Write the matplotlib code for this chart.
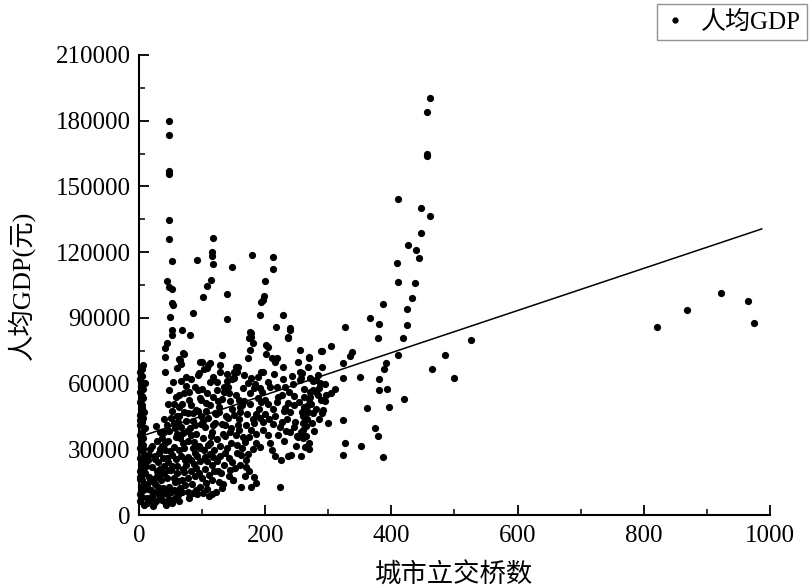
import numpy as np
import matplotlib
matplotlib.use("Agg")
import matplotlib.pyplot as plt
from matplotlib.ticker import MultipleLocator
from matplotlib.lines import Line2D

plt.rcParams['font.family'] = ['Liberation Serif', 'Noto Sans CJK SC', 'DejaVu Sans']

# ---- data ----
col0_x = [2, 5, 1, 7, 3, 9, 4, 2, 6, 1, 8, 3, 5, 2, 10, 4, 1, 6, 3, 7, 2, 5, 9, 1, 4,
          6, 2, 8, 3, 5, 1, 7, 4, 2, 6, 3, 9, 1, 5, 2, 4, 7, 3, 1, 6, 8, 2, 5]
col0_y = [6500, 8200, 9700, 11300, 12600, 14100, 15800, 17200, 18600, 20300, 21400, 23100,
          24700, 26000, 27600, 29200, 30400, 32100, 33700, 35200, 36400, 38100, 39600, 41200,
          42300, 44100, 45700, 47200, 48400, 50100, 51600, 53200, 54300, 56100, 57600, 59100,
          60400, 62200, 63600, 65100, 66700, 68300, 52600, 43400, 30100, 25200, 16400, 48900]

main_x = [12, 15, 18, 10, 22, 25, 28, 20, 30, 26, 33, 35, 38, 32, 24, 36, 40, 14, 18, 38,
          34, 28, 40, 22, 30, 16, 36, 40,
          42, 45, 48, 44, 50, 46, 52, 55, 42, 58, 47, 55, 50, 57, 60, 53, 59, 49, 56, 44,
          60, 52, 46, 58, 48, 54, 60, 41, 57, 51,
          62, 65, 68, 72, 75, 78, 64, 70, 82, 66, 74, 85, 63, 80, 72, 88, 67, 77, 84, 88,
          90, 82, 86, 76, 62, 89, 71, 80, 69, 87, 74, 83, 65, 79, 90,
          92, 96, 100, 104, 108, 112, 95, 102, 116, 98, 110, 93, 106, 118, 100, 112, 94,
          108, 115, 119, 97, 113, 105, 120, 91, 117, 103, 99, 111, 107,
          122, 126, 130, 135, 128, 140, 124, 145, 132, 138, 147, 125, 142, 134, 148, 121,
          136, 143, 149, 131, 127, 139, 146, 123, 144,
          152, 149, 162, 178, 162, 170, 175, 182, 185, 160, 168, 155, 165, 174, 185, 192,
          158, 170, 180, 160, 176, 188, 153, 165, 178, 173, 154, 151, 151, 141, 160, 150,
          157, 146, 183, 190, 167,
          197, 205, 208, 210, 215, 225, 241, 224, 240, 263, 230, 250, 196, 215, 230, 204,
          220, 238, 196, 204, 218, 228, 228, 199, 212, 235, 223, 200, 236, 192,
          252, 255, 257, 268, 284, 275, 280, 262, 245, 258, 270, 291, 285, 300, 248, 265,
          278, 252, 270, 244, 295, 260, 275]
main_y = [8000, 12000, 15500, 19000, 10500, 14000, 18000, 22000, 24000, 27000, 21000, 16000,
          12500, 9000, 5500, 7000, 19000, 25000, 30000, 26000, 30000, 34000, 38000, 4000,
          13000, 17500, 35000, 44000,
          6000, 9500, 13000, 17000, 20500, 24000, 27500, 31000, 33000, 35500, 38500, 42000,
          10500, 15000, 19000, 22500, 25500, 29000, 11500, 41000, 45000, 47500, 50500, 54000,
          57000, 60500, 37000, 12000, 8000, 44500,
          9000, 12500, 16000, 19500, 23000, 26500, 29500, 33000, 36500, 40000, 43000, 46500,
          49500, 52500, 55500, 58500, 61000, 10500, 14000, 18000, 21500, 25000, 30500, 38500,
          42500, 41000, 47000, 8000, 21000, 33500, 63000, 50000, 35000, 56000, 11500,
          9500, 13000, 17000, 21000, 24500, 28000, 31500, 35000, 38000, 41500, 44500, 47500,
          51000, 54000, 57500, 60500, 64000, 12000, 16000, 20000, 24500, 33000, 40000, 46500,
          37000, 26500, 29500, 52500, 8500, 67000,
          10500, 15000, 19000, 23000, 27000, 30500, 34500, 38000, 41500, 45000, 48500, 52000,
          55500, 58500, 62000, 42000, 36000, 26000, 16000, 12500, 47000, 64500, 33000, 57000,
          20500,
          21300, 16000, 13000, 13000, 27400, 25000, 20000, 17500, 14600, 23000, 18000, 32000,
          35500, 35600, 33000, 31000, 39000, 41000, 44000, 47000, 50500, 53500, 55000, 58000,
          62500, 60100, 67700, 65400, 62400, 58600, 49400, 45600, 41000, 39700, 57800, 48500,
          52000,
          38800, 36500, 32900, 29700, 27000, 25100, 27500, 40000, 38000, 31000, 34000, 36000,
          42500, 45000, 47500, 50500, 54000, 56000, 65400, 60900, 58500, 62000, 67700, 46000,
          41500, 44000, 12600, 52500, 51000, 58000,
          70000, 65500, 62400, 67700, 64000, 61000, 56000, 57500, 50000, 47000, 53000, 48000,
          44000, 42000, 42500, 40500, 38500, 35500, 33000, 60000, 52000, 45000, 46500]

fill_x = [8, 12, 17, 21, 27, 31, 37, 43, 48, 13, 19, 23, 29, 34, 39, 44, 47, 11, 16, 21,
          25, 31, 37, 42, 46, 33, 27,
          53, 58, 63, 68, 73, 78, 83, 87, 92, 97, 55, 61, 66, 71, 77, 81, 86, 91, 96, 57,
          63, 68, 75, 82, 64, 93, 55, 70, 78, 88, 95, 99, 85, 73, 62,
          102, 106, 111, 115, 119, 123, 128, 133, 137, 141, 104, 109, 114, 118, 122, 126,
          131, 135, 140, 145, 101, 106, 113, 117, 124, 129, 137, 142, 147, 108, 116, 125, 133,
          156, 163, 168, 172, 177, 182, 186, 191, 153, 159, 164, 171, 176, 184, 189, 195,
          158, 166, 186, 194, 170, 180,
          206, 213, 219, 226, 232, 239, 246, 253, 261, 267, 274, 281, 288, 296, 226, 233,
          245, 256, 264, 273, 285, 294, 221, 208, 214, 232, 242, 262, 276, 249, 236, 256, 270]
fill_y = [4500, 5500, 7000, 8500, 6500, 11000, 9500, 4500, 7500, 13500, 11500, 16500, 20000,
          18500, 22500, 26000, 20500, 22500, 27500, 31500, 25500, 28500, 31500, 29500, 34000,
          38000, 40500,
          5500, 11000, 6500, 10500, 13500, 17000, 20000, 23500, 27000, 30500, 17000, 22500,
          27000, 30500, 34000, 39500, 43000, 48000, 53500, 39500, 45000, 50500, 59000, 62000,
          55000, 57000, 50500, 37500, 46500, 28500, 19000, 45000, 10000, 25000, 15500,
          10000, 14500, 18500, 23000, 29500, 24500, 31500, 37000, 41000, 44500, 26500, 32000,
          36000, 41000, 46000, 49500, 53000, 56000, 61000, 52000, 43000, 47500, 50000, 63000,
          60500, 65500, 28500, 18000, 24000, 55500, 9500, 20000, 14000,
          28500, 30500, 33500, 28000, 39000, 42000, 46000, 44500, 36500, 44000, 50000, 46000,
          55500, 60000, 63000, 56000, 52500, 64000, 37000, 51500, 22000, 30000,
          44000, 48500, 51500, 55000, 49000, 47000, 54500, 51500, 49500, 44000, 42000, 48500,
          52500, 55000, 42500, 38500, 40000, 38000, 36000, 50500, 58000, 60000, 36500, 58500,
          64500, 58500, 63500, 54000, 57000, 31500, 27000, 27000, 30000]

upper_x = [47, 47, 47, 47, 47, 47, 52, 92, 117, 116, 116, 117, 148, 179, 213, 213, 45, 48,
           52, 114, 107, 139, 101, 200, 198, 196, 52, 54, 86, 139, 194, 192, 228, 217, 240,
           236, 49, 52, 52, 68, 81, 44, 41, 41, 42, 176, 178, 181, 176, 173, 202, 210, 215,
           131, 128, 70, 65, 60, 97, 113, 157, 155, 149, 194, 258, 255, 287, 72, 63, 67,
           100, 110, 103, 95, 239, 236, 175, 178, 204, 201, 218, 255, 270, 289]
upper_y = [179900, 173600, 157000, 155700, 134700, 126100, 116000, 116400, 126600, 120200,
           118400, 114600, 113200, 118700, 117900, 112300, 106800, 104200, 103000, 107300,
           104500, 101000, 99600, 107000, 100000, 98000, 96800, 95900, 92400, 89500, 97400,
           91300, 91300, 85800, 85400, 80800, 90400, 84400, 82200, 84400, 82200, 78500, 76200,
           72100, 65400, 83700, 81400, 78400, 75300, 71500, 77600, 71500, 70000, 73000, 68500,
           74000, 70800, 67100, 70000, 69400, 67700, 65400, 62500, 65400, 65000, 61600, 60300,
           73500, 71100, 68800, 70000, 68500, 66500, 64800, 84500, 81100, 80700, 83000, 76800,
           73400, 71500, 75300, 72300, 75000]

mid_x = [461, 456, 456, 456, 410, 447, 461, 447, 427, 439, 443, 409, 410, 438, 433, 386,
         425, 366, 380, 424, 327, 379, 418, 526, 305, 337, 335, 485, 410, 392, 388, 324, 290,
         270, 290, 464, 499, 351, 323, 381, 280, 271, 380, 393, 311, 305, 271, 271, 284, 292,
         420, 362, 396, 268, 268, 290, 323, 260, 260, 260, 374, 378, 326, 352, 323, 387]
mid_y = [190500, 184100, 165000, 164000, 144100, 140000, 136500, 128600, 123300, 121000,
         117500, 114900, 106500, 106100, 99200, 96200, 93900, 89900, 87000, 86600, 86000,
         80900, 80800, 80000, 77300, 74600, 72600, 72900, 72900, 69500, 66800, 69200, 75000,
         71800, 67400, 66500, 62400, 63100, 62400, 62100, 61600, 62400, 57100, 57400, 57400,
         55800, 56300, 54000, 54800, 52500, 52800, 49000, 49400, 50200, 47200, 46400, 43400,
         42000, 38800, 35200, 39900, 36200, 32700, 31600, 27400, 26600]

far_x = [821, 868, 922, 965, 975]
far_y = [85800, 93600, 101300, 97700, 87600]

fit_x = [0, 987]
fit_y = [35600, 130600]

x = np.concatenate([col0_x, main_x, fill_x, upper_x, mid_x, far_x])
y = np.concatenate([col0_y, main_y, fill_y, upper_y, mid_y, far_y])

# ---- figure ----
fig = plt.figure(figsize=(8.10, 5.88), dpi=100)
ax = fig.add_axes([0.1716, 0.1241, 0.779, 0.7824])

ax.scatter(x, y, s=27, color='black', linewidths=0, zorder=3, clip_on=False)
ax.plot(fit_x, fit_y, color='black', linewidth=1.1, zorder=2)

ax.set_xlim(0, 1000)
ax.set_ylim(0, 210000)
ax.xaxis.set_major_locator(MultipleLocator(200))
ax.xaxis.set_minor_locator(MultipleLocator(100))
ax.yaxis.set_major_locator(MultipleLocator(30000))
ax.yaxis.set_minor_locator(MultipleLocator(15000))

for s in ['top', 'right']:
    ax.spines[s].set_visible(False)
for s in ['left', 'bottom']:
    ax.spines[s].set_linewidth(1.5)

ax.tick_params(which='major', direction='in', length=7, width=1.3, labelsize=18)
ax.tick_params(axis='x', which='major', pad=7)
ax.tick_params(axis='y', which='major', pad=6)
ax.tick_params(which='minor', direction='in', length=4, width=1.1)

ax.set_xlabel('城市立交桥数', fontsize=19, labelpad=11)
ax.set_ylabel('人均GDP(元)', fontsize=19, labelpad=15)

handle = Line2D([], [], linestyle='none', marker='o', markersize=3.5, color='black')
leg = fig.legend([handle], ['人均GDP'], loc='upper right', bbox_to_anchor=(0.999, 0.997),
                 fontsize=18, frameon=True, fancybox=False, handlelength=1.0,
                 handletextpad=0.5, borderpad=0.25, borderaxespad=0.1)
leg.get_frame().set_edgecolor('#777777')
leg.get_frame().set_linewidth(1.0)

fig.savefig('out.png', dpi=100)
